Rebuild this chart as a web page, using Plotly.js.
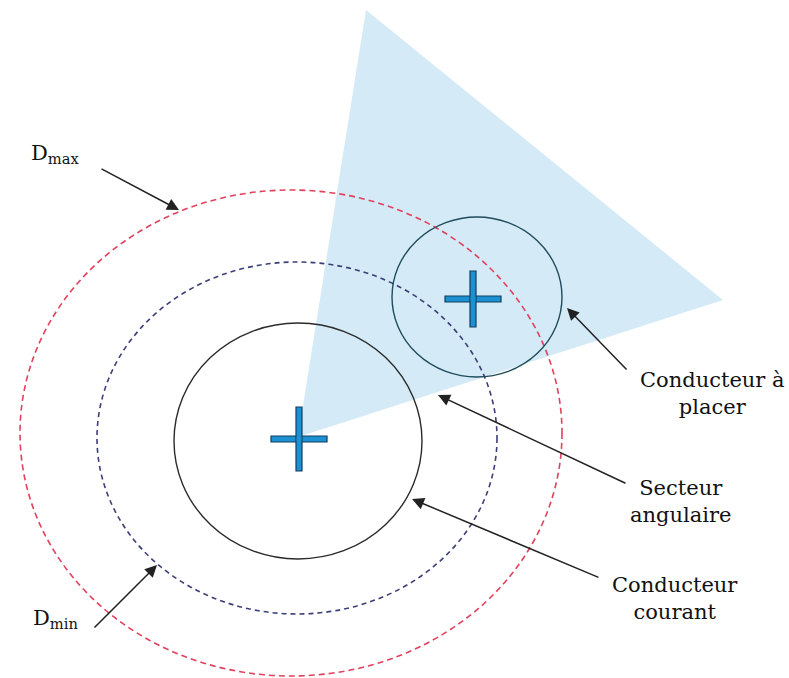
<!DOCTYPE html>
<html>
<head>
<meta charset="utf-8">
<script src="https://cdn.plot.ly/plotly-3.0.1.min.js"></script>
<style>html,body{margin:0;padding:0;background:#fff;}#chart{width:789px;height:678px;}</style>
</head>
<body>
<div id="chart"></div>
<script>
// Diagram geometry (pixel-like units of the drawing)
const sectorX = [298, 366, 723, 298];
const sectorY = [437, 10, 300, 437];

const ellipseNames = ["Conducteur courant", "Dmin", "Dmax", "Conducteur à placer"];
const ellipseCX = [298, 297, 291, 477];
const ellipseCY = [441, 438, 433, 297];
const ellipseRX = [124, 200, 271, 85];
const ellipseRY = [118, 176, 243, 80];
const ellipseColor = ["#2a2a2a", "#3b3f78", "#e0415c", "#1f4c5a"];
const ellipseDash = ["solid", "5px,4px", "6px,4px", "solid"];

const crossCX = [299, 473];
const crossCY = [439, 299];
const crossHalfW = [28, 28];
const crossHalfH = [32, 28];

const arrowHeadX = [179, 157, 567, 438, 412];
const arrowHeadY = [210, 565, 308, 395, 499];
const arrowTailX = [100, 93, 628, 627, 600];
const arrowTailY = [168, 629, 371, 484, 578];

const labelTexts = ["Conducteur à<br>placer", "Secteur<br>angulaire", "Conducteur<br>courant"];
const labelX = [712, 680, 675];
const labelY = [393, 501, 598];

const dLabels = ["D<sub>max</sub>", "D<sub>min</sub>"];
const dX = [29, 31];
const dY = [154, 619];

const traces = [{
  x: sectorX, y: sectorY, type: "scatter", mode: "lines",
  fill: "toself", fillcolor: "#d4eaf7", line: {width: 0, color: "#d4eaf7"},
  hoverinfo: "skip", showlegend: false
}];

const shapes = [];
for (let i = 0; i < ellipseCX.length; i++) {
  shapes.push({
    type: "circle", xref: "x", yref: "y",
    x0: ellipseCX[i] - ellipseRX[i], x1: ellipseCX[i] + ellipseRX[i],
    y0: ellipseCY[i] - ellipseRY[i], y1: ellipseCY[i] + ellipseRY[i],
    line: {color: ellipseColor[i], width: i === 1 || i === 2 ? 1.6 : 1.4, dash: ellipseDash[i]},
    fillcolor: "rgba(0,0,0,0)", layer: "above"
  });
}
for (let i = 0; i < crossCX.length; i++) {
  shapes.push({type: "rect", xref: "x", yref: "y",
    x0: crossCX[i] - crossHalfW[i], x1: crossCX[i] + crossHalfW[i],
    y0: crossCY[i] - 3, y1: crossCY[i] + 3,
    fillcolor: "#1b90d2", line: {color: "#123e5e", width: 1.2}, layer: "above"});
  shapes.push({type: "rect", xref: "x", yref: "y",
    x0: crossCX[i] - 3, x1: crossCX[i] + 3,
    y0: crossCY[i] - crossHalfH[i], y1: crossCY[i] + crossHalfH[i],
    fillcolor: "#1b90d2", line: {color: "#123e5e", width: 1.2}, layer: "above"});
  shapes.push({type: "rect", xref: "x", yref: "y",
    x0: crossCX[i] - 2.4, x1: crossCX[i] + 2.4,
    y0: crossCY[i] - 2.4, y1: crossCY[i] + 2.4,
    fillcolor: "#1b90d2", line: {width: 0}, layer: "above"});
}

const annotations = [];
for (let i = 0; i < arrowHeadX.length; i++) {
  annotations.push({
    x: arrowHeadX[i], y: arrowHeadY[i], ax: arrowTailX[i], ay: arrowTailY[i],
    xref: "x", yref: "y", axref: "x", ayref: "y",
    text: "", showarrow: true, arrowhead: 2, arrowsize: 1.6, arrowwidth: 1.5,
    arrowcolor: "#222", standoff: 0
  });
}
for (let i = 0; i < labelTexts.length; i++) {
  annotations.push({
    x: labelX[i], y: labelY[i], xref: "x", yref: "y", text: labelTexts[i],
    showarrow: false, xanchor: "center", yanchor: "middle", align: "center",
    font: {family: "DejaVu Serif, Liberation Serif, serif", size: 21, color: "#111"}
  });
}
for (let i = 0; i < dLabels.length; i++) {
  annotations.push({
    x: dX[i], y: dY[i], xref: "x", yref: "y", text: dLabels[i],
    showarrow: false, xanchor: "left", yanchor: "middle",
    font: {family: "DejaVu Serif, Liberation Serif, serif", size: 21, color: "#111"}
  });
}

const layout = {
  width: 789, height: 678,
  margin: {l: 0, r: 0, t: 0, b: 0},
  paper_bgcolor: "#fff", plot_bgcolor: "#fff",
  xaxis: {range: [0, 789], visible: false, fixedrange: true},
  yaxis: {range: [678, 0], visible: false, fixedrange: true},
  shapes: shapes, annotations: annotations, showlegend: false
};

Plotly.newPlot("chart", traces, layout, {staticPlot: true, displayModeBar: false});
</script>
</body>
</html>
